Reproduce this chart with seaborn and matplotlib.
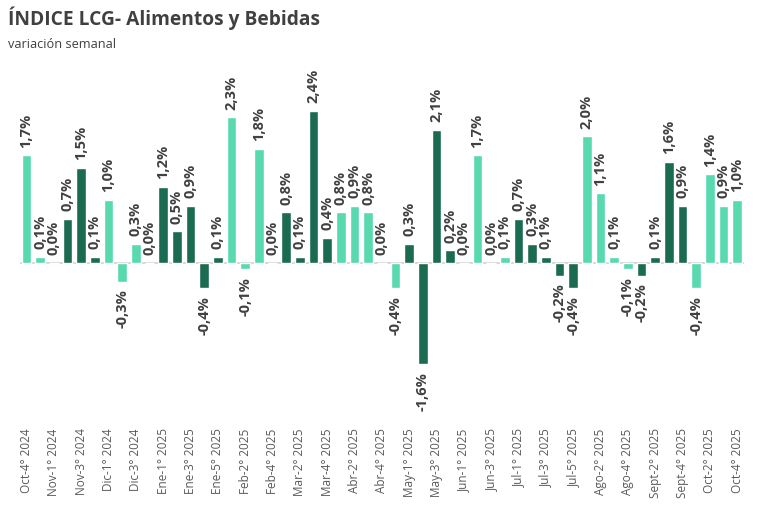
import pandas as pd
import seaborn as sb
import matplotlib.pyplot as plt


semanas = [
	'Oct-4° 2024', 'Oct-5° 2024', 'Nov-1° 2024', 'Nov-2° 2024', 'Nov-3° 2024', 'Nov-4° 2024',
	'Dic-1° 2024', 'Dic-2° 2024', 'Dic-3° 2024', 'Dic-4° 2024',
	'Ene-1° 2025', 'Ene-2° 2025', 'Ene-3° 2025', 'Ene-4° 2025', 'Ene-5° 2025',
	'Feb-1° 2025', 'Feb-2° 2025', 'Feb-3° 2025', 'Feb-4° 2025',
	'Mar-1° 2025', 'Mar-2° 2025', 'Mar-3° 2025', 'Mar-4° 2025',
	'Abr-1° 2025', 'Abr-2° 2025', 'Abr-3° 2025', 'Abr-4° 2025', 'Abr-5° 2025',
	'May-1° 2025', 'May-2° 2025', 'May-3° 2025', 'May-4° 2025',
	'Jun-1° 2025', 'Jun-2° 2025', 'Jun-3° 2025', 'Jun-4° 2025',
	'Jul-1° 2025', 'Jul-2° 2025', 'Jul-3° 2025', 'Jul-4° 2025', 'Jul-5° 2025',
	'Ago-1° 2025', 'Ago-2° 2025', 'Ago-3° 2025', 'Ago-4° 2025',
	'Sept-1° 2025', 'Sept-2° 2025', 'Sept-3° 2025', 'Sept-4° 2025',
	'Oct-1° 2025', 'Oct-2° 2025', 'Oct-3° 2025', 'Oct-4° 2025',
]

variacion = [
	1.7, 0.1,
	0.0, 0.7, 1.5, 0.1,
	1.0, -0.3, 0.3, 0.0,
	1.2, 0.5, 0.9, -0.4, 0.1,
	2.3, -0.1, 1.8, 0.0,
	0.8, 0.1, 2.4, 0.4,
	0.8, 0.9, 0.8, 0.0, -0.4,
	0.3, -1.6, 2.1, 0.2,
	0.0, 1.7, 0.0, 0.1,
	0.7, 0.3, 0.1, -0.2, -0.4,
	2.0, 1.1, 0.1, -0.1,
	-0.2, 0.1, 1.6, 0.9,
	-0.4, 1.4, 0.9, 1.0,
]

# meses alternan color: claro / oscuro
grupo = [
	'c', 'c',
	'o', 'o', 'o', 'o',
	'c', 'c', 'c', 'c',
	'o', 'o', 'o', 'o', 'o',
	'c', 'c', 'c', 'c',
	'o', 'o', 'o', 'o',
	'c', 'c', 'c', 'c', 'c',
	'o', 'o', 'o', 'o',
	'c', 'c', 'c', 'c',
	'o', 'o', 'o', 'o', 'o',
	'c', 'c', 'c', 'c',
	'o', 'o', 'o', 'o',
	'c', 'c', 'c', 'c',
]

colores = {'c': '#58d9af', 'o': '#1b6b52'}

df = pd.DataFrame({'semana': semanas, 'var': variacion, 'grupo': grupo})

sb.set_style('white')
plt.rcParams['font.family'] = ['Open Sans', 'DejaVu Sans']

fig = plt.figure(figsize=(7.6, 5.08), dpi=100)
ax = fig.add_axes([0.026, 0.173, 0.953, 0.66])

sb.barplot(data=df, x='semana', y='var', hue='grupo', palette=colores, order=semanas,
	dodge=False, width=0.7, saturation=1, legend=False, ax=ax)

ax.axhline(0, color='#d9d9d9', lw=1.5, zorder=0)
ax.set_xlim(-0.5, len(semanas) - 0.5)
ax.set_ylim(-2.48, 2.81)

for i, v in enumerate(variacion):
	txt = f'{v:.1f}%'.replace('.', ',')
	if v >= 0:
		ax.text(i, v + 0.12, txt, rotation=90, ha='center', va='bottom',
			fontsize=10.5, fontweight='bold', color='#404040', clip_on=False)
	else:
		ax.text(i, v - 0.12, txt, rotation=90, ha='center', va='top',
			fontsize=10.5, fontweight='bold', color='#404040')

ax.set_xticks(range(0, len(semanas), 2))
ax.set_xticklabels(semanas[::2], rotation=90, fontsize=8.5, color='#595959')
ax.tick_params(axis='x', length=0, pad=6)
ax.set_yticks([])
ax.set_xlabel('')
ax.set_ylabel('')
sb.despine(ax=ax, left=True, bottom=True)

fig.text(0.011, 0.95, 'ÍNDICE LCG- Alimentos y Bebidas', fontsize=13.8, fontweight='bold',
	color='#404040', va='baseline')
fig.text(0.011, 0.912, 'variación semanal', fontsize=9.2, color='#404040', va='center')

fig.savefig('out.png', dpi=100)
